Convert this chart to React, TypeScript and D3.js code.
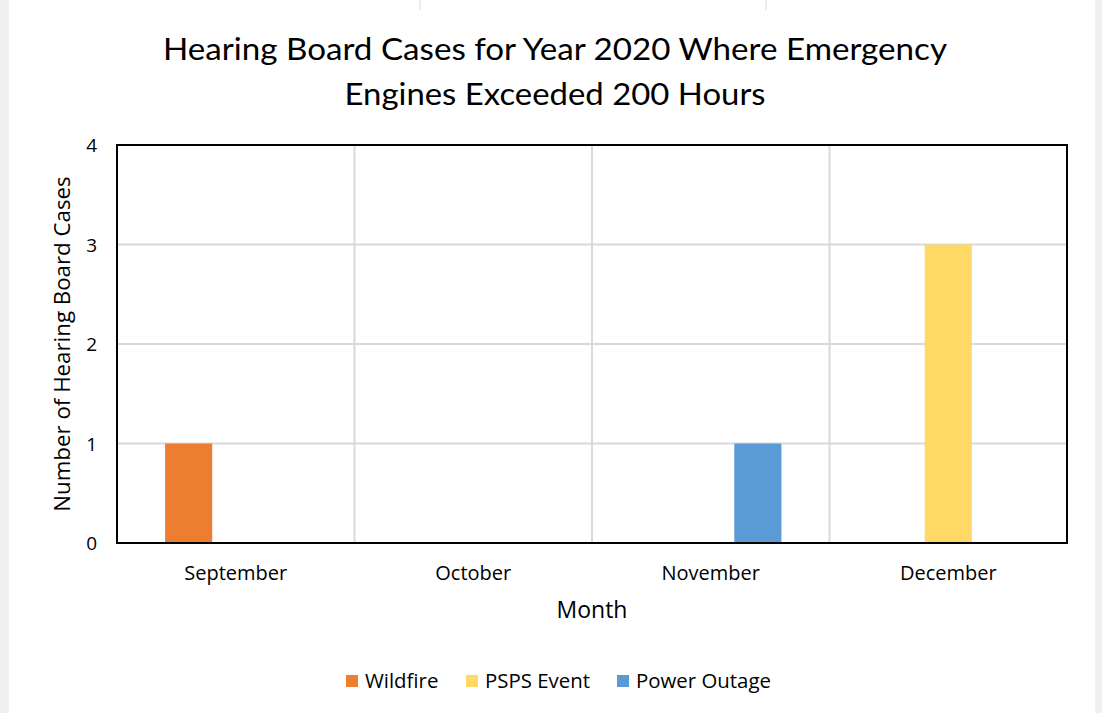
import React from 'react';
import * as d3 from 'd3';

const months = ['September', 'October', 'November', 'December'];
const seriesNames = ['Wildfire', 'PSPS Event', 'Power Outage'];
const wildfire = [1, 0, 0, 0];
const pspsEvent = [0, 0, 0, 3];
const powerOutage = [0, 0, 1, 0];
const yTicks = [0, 1, 2, 3, 4];
const colors = ['#ED7D31', '#FFD966', '#5B9BD5'];

const W = 1102;
const H = 713;
const TITLE_FONT = 'Lato, "Open Sans", sans-serif';
const FONT = '"Open Sans", Lato, sans-serif';

const App: React.FC = () => {
  const left = 117, right = 1067, top = 145, bottom = 543;
  const x0 = d3.scaleBand<string>().domain(months).range([left, right]);
  const bw = x0.bandwidth();
  const gap = bw * 0.405;
  const x1 = d3.scaleBand<string>().domain(seriesNames).range([gap / 2, bw - gap / 2]);
  const y = d3.scaleLinear().domain([0, 4]).range([bottom, top]);
  const values = [wildfire, pspsEvent, powerOutage];

  // legend layout
  const legendX = [346, 466, 617];

  return (
    <svg width={W} height={H} style={{ position: 'absolute', left: 0, top: 0, background: '#fff' }}>
      {/* page edges */}
      <rect x={0} y={0} width={9} height={H} fill="#f0f0f0" />
      <rect x={1095} y={0} width={7} height={H} fill="#f0f0f0" />
      <line x1={420} x2={420} y1={0} y2={10} stroke="#d9d9d9" />
      <line x1={766} x2={766} y1={0} y2={10} stroke="#d9d9d9" />

      {/* title */}
      <text x={555} y={60} textAnchor="middle" fontFamily={TITLE_FONT} fontSize={31} fill="#000"
        textLength={784} lengthAdjust="spacingAndGlyphs">
        Hearing Board Cases for Year 2020 Where Emergency
      </text>
      <text x={555} y={105} textAnchor="middle" fontFamily={TITLE_FONT} fontSize={31} fill="#000"
        textLength={421} lengthAdjust="spacingAndGlyphs">
        Engines Exceeded 200 Hours
      </text>

      {/* gridlines */}
      {yTicks.map(t => (
        <line key={'gy' + t} x1={left} x2={right} y1={y(t)} y2={y(t)} stroke="#d9d9d9" strokeWidth={2} />
      ))}
      {months.slice(1).map(m => (
        <line key={'gx' + m} x1={x0(m)!} x2={x0(m)!} y1={top} y2={bottom} stroke="#d9d9d9" strokeWidth={2} />
      ))}

      {/* bars */}
      {values.map((vals, si) =>
        vals.map((v, mi) =>
          v > 0 ? (
            <rect
              key={si + '-' + mi}
              x={x0(months[mi])! + x1(seriesNames[si])!}
              y={y(v)}
              width={x1.bandwidth()}
              height={y(0) - y(v)}
              fill={colors[si]}
            />
          ) : null
        )
      )}

      {/* plot border */}
      <rect x={left} y={top} width={right - left} height={bottom - top} fill="none" stroke="#000" strokeWidth={2} />

      {/* y tick labels */}
      {yTicks.map(t => (
        <text key={'ty' + t} x={97} y={y(t) + 7} textAnchor="end" fontFamily={FONT} fontSize={19} fill="#000">
          {t}
        </text>
      ))}
      {/* x tick labels */}
      {months.map(m => (
        <text key={'tx' + m} x={x0(m)! + bw / 2} y={580} textAnchor="middle" fontFamily={FONT} fontSize={20} fill="#000">
          {m}
        </text>
      ))}

      {/* axis titles */}
      <text x={592} y={618} textAnchor="middle" fontFamily={FONT} fontSize={23} fill="#000">Month</text>
      <text
        transform={`translate(70, ${(top + bottom) / 2}) rotate(-90)`}
        textAnchor="middle"
        fontFamily={FONT}
        fontSize={22.3}
        fill="#000"
      >
        Number of Hearing Board Cases
      </text>

      {/* legend */}
      {seriesNames.map((s, i) => (
        <g key={'lg' + s}>
          <rect x={legendX[i]} y={675} width={12} height={12} fill={colors[i]} />
          <text x={legendX[i] + 19} y={688} fontFamily={FONT} fontSize={20.4} fill="#000">{s}</text>
        </g>
      ))}
    </svg>
  );
};

export default App;
